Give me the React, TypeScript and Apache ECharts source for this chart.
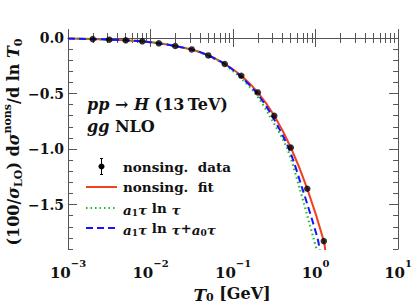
import React, { useEffect, useRef } from "react";
import * as echarts from "echarts";

// ---- data ----
const dataTau = [0.001995, 0.00316, 0.00501, 0.00794, 0.0126, 0.01995, 0.0316, 0.0501, 0.0794, 0.126, 0.1995, 0.316, 0.501, 0.794, 1.259];
const dataVal = [-0.010, -0.015, -0.021, -0.030, -0.048, -0.072, -0.103, -0.157, -0.234, -0.340, -0.490, -0.700, -0.986, -1.358, -1.829];

const fitTau = [0.001, 0.001995, 0.00316, 0.00501, 0.00794, 0.0126, 0.01995, 0.0316, 0.0501, 0.0794, 0.126, 0.1995, 0.316, 0.501, 0.794, 1.259, 1.33];
const fitVal = [-0.005, -0.010, -0.015, -0.021, -0.030, -0.048, -0.072, -0.103, -0.157, -0.234, -0.340, -0.490, -0.700, -0.986, -1.358, -1.829, -1.96];

const llTau = [0.001, 0.00316, 0.01, 0.0316, 0.0501, 0.0794, 0.116, 0.182, 0.277, 0.456, 0.64, 0.95, 1.074];
const llVal = [-0.005, -0.015, -0.038, -0.103, -0.160, -0.240, -0.340, -0.490, -0.700, -1.001, -1.352, -1.81, -1.95];

const ll0Tau = [0.001, 0.00316, 0.01, 0.0316, 0.0501, 0.0794, 0.121, 0.191, 0.297, 0.477, 0.689, 1.062, 1.148];
const ll0Val = [-0.005, -0.015, -0.038, -0.103, -0.157, -0.234, -0.340, -0.490, -0.700, -1.001, -1.352, -1.81, -1.96];

const xMajor = [0.001, 0.01, 0.1, 1, 10];
const xMinor: number[] = [];
[0.001, 0.01, 0.1, 1].forEach((d) => {
  for (let k = 2; k <= 9; k++) xMinor.push(+(d * k).toPrecision(3));
});
const yMajor = [0, -0.5, -1.0, -1.5];
const yMinor = [-0.1, -0.2, -0.3, -0.4, -0.6, -0.7, -0.8, -0.9, -1.1, -1.2, -1.3, -1.4, -1.6, -1.7, -1.8, -1.9];

const legendLabels = ["nonsing.  data", "nonsing.  fit"];

const FONT = "'DejaVu Serif', serif";
const AXIS_COLOR = "#555";
const RED = "#f4401e";
const GREEN = "#1fbf1f";
const BLUE = "#1414ff";

const zip = (a: number[], b: number[]) => a.map((v, i) => [v, b[i]]);

export default function App() {
  const ref = useRef<HTMLDivElement>(null);
  useEffect(() => {
    document.body.style.margin = "0";
    const chart = echarts.init(ref.current!, undefined, { renderer: "svg" });

    const xBase = { type: "log" as const, logBase: 10, min: 0.001, max: 10, gridIndex: 0, splitLine: { show: false } };
    const yBase = { type: "value" as const, min: -1.9, max: 0, gridIndex: 0, splitLine: { show: false } };
    const line = { show: true, lineStyle: { color: AXIS_COLOR, width: 1 } };

    const xLabelFmt = (v: number) => {
      const e = Math.round(Math.log10(v));
      return `{b|10}{s|${e < 0 ? "\u2212" : ""}${Math.abs(e)}}`;
    };
    const yLabelFmt = (v: number) => (Math.abs(v) < 1e-9 ? "0.0" : "\u2212" + Math.abs(v).toFixed(1));

    const legendRich = {
      i: { fontFamily: FONT, fontWeight: "bold", fontStyle: "italic", fontSize: 13.5, lineHeight: 18, verticalAlign: "bottom" },
      s: { fontFamily: FONT, fontWeight: "bold", fontSize: 9, lineHeight: 9, verticalAlign: "bottom" },
    };

    const option: any = {
      animation: false,
      backgroundColor: "#fff",
      grid: { left: 68, right: 13, top: 38, bottom: 57, containLabel: false },
      xAxis: [
        {
          ...xBase, position: "bottom", axisLine: line,
          axisTick: { show: true, inside: true, length: 9, customValues: xMajor, lineStyle: { color: AXIS_COLOR } },
          axisLabel: {
            show: true, customValues: xMajor, margin: 9, formatter: xLabelFmt,
            rich: {
              b: { fontFamily: FONT, fontWeight: "bold", fontSize: 15, color: "#111", lineHeight: 22, verticalAlign: "bottom" },
              s: { fontFamily: FONT, fontWeight: "bold", fontSize: 10, color: "#111", lineHeight: 12, verticalAlign: "top" },
            },
          },
        },
        { ...xBase, position: "bottom", axisLine: { show: false }, axisLabel: { show: false },
          axisTick: { show: true, inside: true, length: 5, customValues: xMinor, lineStyle: { color: AXIS_COLOR } } },
        { ...xBase, position: "top", axisLine: line, axisLabel: { show: false },
          axisTick: { show: true, inside: true, length: 9, customValues: xMajor, lineStyle: { color: AXIS_COLOR } } },
        { ...xBase, position: "top", axisLine: { show: false }, axisLabel: { show: false },
          axisTick: { show: true, inside: true, length: 5, customValues: xMinor, lineStyle: { color: AXIS_COLOR } } },
      ],
      yAxis: [
        {
          ...yBase, position: "left", axisLine: line,
          axisTick: { show: true, inside: true, length: 9, customValues: yMajor, lineStyle: { color: AXIS_COLOR } },
          axisLabel: { show: true, customValues: yMajor, margin: 4, formatter: yLabelFmt,
            fontFamily: FONT, fontWeight: "bold", fontSize: 14, color: "#111" },
        },
        { ...yBase, position: "left", axisLine: { show: false }, axisLabel: { show: false },
          axisTick: { show: true, inside: true, length: 5, customValues: yMinor, lineStyle: { color: AXIS_COLOR } } },
        { ...yBase, position: "right", axisLine: line, axisLabel: { show: false },
          axisTick: { show: true, inside: true, length: 9, customValues: yMajor, lineStyle: { color: AXIS_COLOR } } },
        { ...yBase, position: "right", axisLine: { show: false }, axisLabel: { show: false },
          axisTick: { show: true, inside: true, length: 5, customValues: yMinor, lineStyle: { color: AXIS_COLOR } } },
      ],
      series: [
        { type: "line", name: "fit", data: zip(fitTau, fitVal), smooth: 0.3, showSymbol: false, symbol: "none",
          lineStyle: { color: RED, width: 2 }, clip: true, z: 2 },
        { type: "line", name: "ll", data: zip(llTau, llVal), smooth: 0.3, showSymbol: false, symbol: "none",
          lineStyle: { color: GREEN, width: 2.2, type: [1.5, 3] }, clip: true, z: 3 },
        { type: "line", name: "ll0", data: zip(ll0Tau, ll0Val), smooth: 0.3, showSymbol: false, symbol: "none",
          lineStyle: { color: BLUE, width: 2, type: [7, 4] }, clip: true, z: 4 },
        { type: "scatter", name: "data", data: zip(dataTau, dataVal), symbol: "circle", symbolSize: 6.5,
          itemStyle: { color: "#000" }, z: 5 },
      ],
      graphic: [
        // annotation
        { type: "text", x: 87, y: 104, style: {
          text: "{i|pp} \u2192 {i|H} (13\u2009TeV)", fill: "#111", textVerticalAlign: "middle",
          font: `bold 16px ${FONT}`,
          rich: { i: { fontFamily: FONT, fontWeight: "bold", fontStyle: "italic", fontSize: 16 } } } },
        { type: "text", x: 87, y: 126, style: {
          text: "{i|gg} NLO", fill: "#111", textVerticalAlign: "middle", font: `bold 16px ${FONT}`,
          rich: { i: { fontFamily: FONT, fontWeight: "bold", fontStyle: "italic", fontSize: 16 } } } },
        // legend: data
        { type: "line", shape: { x1: 101.5, y1: 158.5, x2: 101.5, y2: 174.5 }, style: { stroke: "#000", lineWidth: 1 } },
        { type: "line", shape: { x1: 100, y1: 158.5, x2: 103, y2: 158.5 }, style: { stroke: "#000", lineWidth: 1 } },
        { type: "line", shape: { x1: 100, y1: 174.5, x2: 103, y2: 174.5 }, style: { stroke: "#000", lineWidth: 1 } },
        { type: "circle", shape: { cx: 101.5, cy: 166.5, r: 3 }, style: { fill: "#000" } },
        { type: "text", x: 123, y: 167, style: { text: legendLabels[0], fill: "#111", textVerticalAlign: "middle", font: `bold 13.5px ${FONT}` } },
        // legend: fit
        { type: "line", shape: { x1: 86, y1: 187, x2: 117, y2: 187 }, style: { stroke: RED, lineWidth: 2 } },
        { type: "text", x: 123, y: 187, style: { text: legendLabels[1], fill: "#111", textVerticalAlign: "middle", font: `bold 13.5px ${FONT}` } },
        // legend: a1 tau ln tau
        { type: "line", shape: { x1: 86, y1: 208, x2: 117, y2: 208 }, style: { stroke: GREEN, lineWidth: 2.2, lineDash: [1.5, 3] } },
        { type: "text", x: 123, y: 208, style: {
          text: "{i|a}{s|1}{i|\u03c4} ln {i|\u03c4}", fill: "#111", textVerticalAlign: "middle", font: `bold 13.5px ${FONT}`,
          rich: legendRich } },
        // legend: a1 tau ln tau + a0 tau
        { type: "line", shape: { x1: 86, y1: 228, x2: 117, y2: 228 }, style: { stroke: BLUE, lineWidth: 2, lineDash: [7, 4] } },
        { type: "text", x: 123, y: 228, style: {
          text: "{i|a}{s|1}{i|\u03c4} ln {i|\u03c4}+{i|a}{s|0}{i|\u03c4}", fill: "#111", textVerticalAlign: "middle", font: `bold 13.5px ${FONT}`,
          rich: legendRich } },
        // x axis title
        { type: "text", x: 232, y: 293, style: {
          text: "{i|T}{s|0} [GeV]", fill: "#111", textAlign: "center", textVerticalAlign: "middle", font: `bold 16px ${FONT}`,
          rich: {
            i: { fontFamily: FONT, fontWeight: "bold", fontStyle: "italic", fontSize: 17, lineHeight: 20, verticalAlign: "bottom" },
            s: { fontFamily: FONT, fontWeight: "bold", fontSize: 11, lineHeight: 11, verticalAlign: "bottom" },
          } } },
        // y axis title
        { type: "text", x: 13, y: 142, rotation: Math.PI / 2, style: {
          text: "(100/{i|\u03c3}{s|LO}) d{i|\u03c3}{p|nons}/d ln {i|T}{s|0}", fill: "#111",
          textAlign: "center", textVerticalAlign: "middle", font: `bold 16px ${FONT}`,
          rich: {
            i: { fontFamily: FONT, fontWeight: "bold", fontStyle: "italic", fontSize: 16, lineHeight: 22 },
            s: { fontFamily: FONT, fontWeight: "bold", fontSize: 11, lineHeight: 22, verticalAlign: "bottom" },
            p: { fontFamily: FONT, fontWeight: "bold", fontSize: 11, lineHeight: 22, verticalAlign: "top" },
          } } },
      ],
    };
    chart.setOption(option);
    return () => chart.dispose();
  }, []);
  return <div ref={ref} style={{ width: 415, height: 306 }} />;
}
